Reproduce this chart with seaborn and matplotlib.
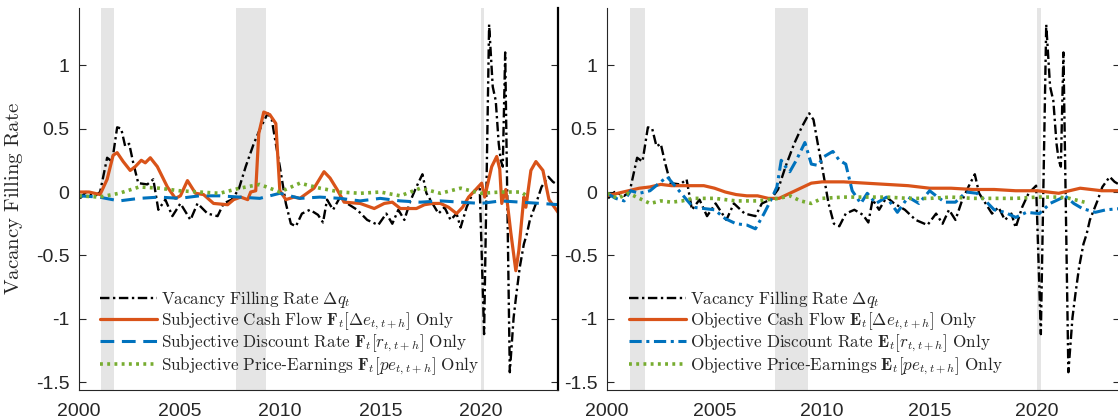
import numpy as np
import pandas as pd
import seaborn as sns
import matplotlib.pyplot as plt

# --- data ---
# vacancy filling rate (same series in both panels)
fill_years = [2000.05, 2000.35, 2000.8, 2001.05, 2001.4, 2001.65, 2001.9, 2002.1, 2002.3, 2002.5,
              2002.7, 2002.95, 2003.4, 2003.7, 2003.95, 2004.3, 2004.65, 2005.05, 2005.55, 2005.9,
              2006.4, 2006.9, 2007.2, 2007.6, 2007.95, 2008.3, 2008.7, 2009.05, 2009.4, 2009.6,
              2009.8, 2010.0, 2010.3, 2010.55, 2010.8, 2011.1, 2011.5, 2011.9, 2012.15, 2012.35,
              2012.65, 2013.0, 2013.35, 2013.85, 2014.35, 2014.9, 2015.3, 2015.6, 2015.9, 2016.2,
              2016.5, 2016.8, 2017.1, 2017.3, 2017.6, 2017.9, 2018.2, 2018.5, 2018.8, 2019.0,
              2019.3, 2019.6, 2019.95, 2020.17, 2020.42, 2020.6, 2020.75, 2020.9, 2021.0, 2021.1,
              2021.22, 2021.45, 2021.64, 2021.78, 2021.95, 2022.15, 2022.3, 2022.45, 2022.8, 2023.03,
              2023.37, 2023.6, 2023.9]
fill_rate = [-0.05, 0.0, -0.03, 0.0, 0.27, 0.24, 0.51, 0.5, 0.36, 0.38,
             0.23, 0.07, 0.06, 0.1, -0.14, -0.06, -0.19, -0.09, -0.22, -0.09,
             -0.17, -0.19, -0.09, -0.06, 0.02, 0.2, 0.38, 0.51, 0.62, 0.57,
             0.38, 0.2, -0.09, -0.25, -0.27, -0.17, -0.14, -0.18, -0.24, -0.06,
             -0.14, -0.04, -0.09, -0.14, -0.22, -0.26, -0.17, -0.25, -0.14, -0.22,
             -0.07, 0.04, 0.14, -0.01, -0.09, -0.17, -0.12, -0.22, -0.17, -0.28,
             -0.12, -0.01, 0.05, -1.12, 1.32, 0.83, 0.72, 0.38, 0.25, 0.2,
             1.1, -1.42, -0.99, -0.8, -0.59, -0.41, -0.33, -0.22, -0.07, 0.04,
             0.12, 0.08, 0.05]

# subjective (left panel)
subj_cf_years = [2000.0, 2000.5, 2001.05, 2001.4, 2001.7, 2001.9, 2002.2, 2002.55, 2002.8, 2003.1,
                 2003.3, 2003.55, 2003.9, 2004.4, 2004.8, 2005.05, 2005.4, 2005.8, 2006.2, 2006.7,
                 2007.4, 2007.7, 2008.05, 2008.4, 2008.55, 2008.8, 2008.95, 2009.2, 2009.5, 2009.8,
                 2010.0, 2010.3, 2010.7, 2011.0, 2011.7, 2012.2, 2012.5, 2012.85, 2013.2, 2014.0,
                 2014.7, 2015.2, 2015.6, 2016.0, 2016.4, 2016.8, 2017.2, 2017.6, 2018.0, 2018.4,
                 2018.8, 2019.1, 2019.4, 2019.7, 2020.05, 2020.2, 2020.55, 2020.8, 2020.95, 2021.05,
                 2021.25, 2021.5, 2021.75, 2021.9, 2022.15, 2022.25, 2022.5, 2022.75, 2023.1, 2023.4,
                 2023.9]
subj_cf = [0.0, 0.0, -0.02, 0.1, 0.29, 0.31, 0.24, 0.17, 0.2, 0.25,
           0.23, 0.27, 0.2, 0.04, -0.05, -0.03, 0.09, -0.01, -0.02, -0.09,
           -0.1, -0.06, -0.04, -0.06, 0.0, 0.01, 0.46, 0.63, 0.61, 0.54,
           0.01, -0.06, -0.04, -0.05, 0.03, 0.16, 0.11, 0.02, -0.08, -0.09,
           -0.13, -0.09, -0.08, -0.13, -0.13, -0.13, -0.1, -0.09, -0.09, -0.12,
           -0.17, -0.12, -0.04, 0.01, 0.07, -0.04, 0.2, 0.28, 0.18, -0.09,
           0.02, -0.32, -0.62, -0.46, -0.04, -0.12, 0.17, 0.24, 0.17, -0.06,
           -0.17]

subj_dr_years = [2000, 2001, 2002, 2003, 2004, 2005, 2006, 2007, 2008, 2009, 2010, 2011, 2012,
                 2013, 2014, 2015, 2016, 2017, 2018, 2019, 2020, 2021, 2022, 2023, 2023.9]
subj_dr = [-0.03, -0.04, -0.07, -0.05, -0.04, -0.05, -0.03, -0.03, -0.04, -0.05, -0.01, -0.05, -0.04,
           -0.05, -0.07, -0.05, -0.07, -0.08, -0.07, -0.08, -0.09, -0.07, -0.08, -0.09, -0.1]

subj_pe_years = [2000, 2001, 2002, 2003, 2004, 2005, 2006, 2007, 2008, 2009, 2010, 2011, 2012,
                 2013, 2014, 2015, 2016, 2017, 2018, 2019, 2020, 2021, 2022, 2022.3]
subj_pe = [-0.03, -0.04, -0.01, 0.04, 0.03, 0.01, 0.0, -0.01, 0.03, 0.06, 0.0, 0.07, 0.03,
           0.0, -0.01, 0.0, -0.03, 0.03, -0.01, 0.03, -0.01, 0.0, 0.0, -0.03]

# objective (right panel)
obj_cf_years = [2000, 2000.5, 2001, 2001.5, 2002, 2002.5, 2003, 2003.5, 2004, 2004.5, 2005, 2005.5,
                2006, 2006.5, 2007, 2007.5, 2008, 2008.5, 2009, 2009.5, 2010, 2011, 2012, 2013,
                2014, 2015, 2016, 2017, 2018, 2019, 2020, 2020.5, 2021, 2021.5, 2022, 2022.5,
                2023, 2023.9]
obj_cf = [-0.03, -0.01, 0.01, 0.03, 0.04, 0.06, 0.05, 0.05, 0.05, 0.05, 0.03, 0.0,
          -0.02, -0.03, -0.03, -0.05, -0.05, -0.01, 0.03, 0.07, 0.08, 0.08, 0.07, 0.06,
          0.05, 0.03, 0.03, 0.02, 0.02, 0.01, 0.01, 0.0, -0.01, 0.01, 0.03, 0.02,
          0.01, 0.01]

obj_dr_years = [2000, 2000.4, 2000.8, 2001.1, 2001.5, 2002, 2002.5, 2002.8, 2003.2, 2003.6, 2004,
                2004.5, 2005, 2005.5, 2006, 2006.5, 2006.9, 2007.3, 2007.6, 2007.9, 2008.1, 2008.3,
                2008.5, 2008.8, 2009.2, 2009.5, 2009.8, 2010.1, 2010.5, 2010.8, 2011.1, 2011.4,
                2011.8, 2012.1, 2012.5, 2013, 2013.5, 2014, 2014.5, 2015, 2015.3, 2015.7, 2016.2,
                2016.7, 2017.2, 2017.6, 2018, 2018.5, 2019, 2019.5, 2020.1, 2020.6, 2021.1,
                2021.3, 2021.7, 2022.1, 2022.7, 2023.2, 2023.9]
obj_dr = [-0.01, -0.05, -0.07, 0.01, -0.01, 0.01, 0.08, 0.12, 0.04, -0.04, -0.12,
          -0.13, -0.14, -0.21, -0.25, -0.26, -0.29, -0.17, -0.07, 0.04, 0.25, 0.2,
          0.16, 0.25, 0.39, 0.22, 0.21, 0.28, 0.32, 0.25, 0.22, 0.01,
          -0.09, -0.01, -0.09, -0.04, -0.16, -0.04, -0.09, 0.01, -0.03, -0.08, -0.08,
          0.0, -0.01, -0.07, -0.14, -0.16, -0.2, -0.16, -0.17, -0.09, -0.05,
          -0.03, -0.09, -0.13, -0.16, -0.14, -0.13]

obj_pe_years = [2000, 2000.5, 2001, 2001.5, 2002, 2002.5, 2003, 2003.5, 2004, 2005, 2006, 2007,
                2008, 2008.5, 2009, 2009.5, 2010, 2011, 2012, 2013, 2014, 2015, 2016, 2017,
                2018, 2019, 2020, 2021, 2021.5, 2022.2]
obj_pe = [-0.01, -0.05, -0.01, -0.05, -0.09, -0.07, -0.08, -0.07, -0.05, -0.05, -0.07, -0.07,
          -0.05, -0.03, -0.07, -0.09, -0.05, -0.04, -0.04, -0.04, -0.05, -0.05, -0.04, -0.05,
          -0.05, -0.05, -0.04, -0.04, -0.05, -0.08]

recessions = [(2001.08, 2001.75), (2007.83, 2009.33), (2020.0, 2020.17)]

subj_labels = [r'$\mathrm{Vacancy\ Filling\ Rate}\ \Delta q_t$',
               r'$\mathrm{Subjective\ Cash\ Flow}\ \mathbf{F}_t[\Delta e_{t,t+h}]\ \mathrm{Only}$',
               r'$\mathrm{Subjective\ Discount\ Rate}\ \mathbf{F}_t[r_{t,t+h}]\ \mathrm{Only}$',
               r'$\mathrm{Subjective\ Price}$-$\mathrm{Earnings}\ \mathbf{F}_t[pe_{t,t+h}]\ \mathrm{Only}$']
obj_labels = [r'$\mathrm{Vacancy\ Filling\ Rate}\ \Delta q_t$',
              r'$\mathrm{Objective\ Cash\ Flow}\ \mathbf{E}_t[\Delta e_{t,t+h}]\ \mathrm{Only}$',
              r'$\mathrm{Objective\ Discount\ Rate}\ \mathbf{E}_t[r_{t,t+h}]\ \mathrm{Only}$',
              r'$\mathrm{Objective\ Price}$-$\mathrm{Earnings}\ \mathbf{E}_t[pe_{t,t+h}]\ \mathrm{Only}$']

BLACK, ORANGE, BLUE, GREEN = '#000000', '#D95319', '#0072BD', '#77AC30'

sns.set_style('white')
plt.rcParams['font.family'] = ['Liberation Sans', 'DejaVu Sans']
plt.rcParams['mathtext.fontset'] = 'cm'

fig = plt.figure(figsize=(11.18, 4.2), dpi=100)
ax1 = fig.add_axes([79 / 1118, 30 / 420, 479 / 1118, 382 / 420])
ax2 = fig.add_axes([607 / 1118, 30 / 420, 513 / 1118, 382 / 420])


def draw_panel(ax, cf, dr, pe, labels, dr_style):
    for a, b in recessions:
        ax.axvspan(a, b, color='#E5E5E5', lw=0, zorder=0)
    sns.lineplot(x=fill_years, y=fill_rate, ax=ax, color=BLACK, lw=1.7,
                 linestyle=(0, (4, 1.5, 1, 1.5)), label=labels[0])
    sns.lineplot(x=cf[0], y=cf[1], ax=ax, color=ORANGE, lw=2.3, label=labels[1])
    sns.lineplot(x=dr[0], y=dr[1], ax=ax, color=BLUE, lw=2.2, linestyle=dr_style, label=labels[2])
    sns.lineplot(x=pe[0], y=pe[1], ax=ax, color=GREEN, lw=2.6,
                 linestyle=(0, (0.8, 1.2)), label=labels[3])

    ax.set_xlim(2000, 2023.85)
    ax.set_ylim(-1.56, 1.45)
    ax.set_xticks([2000, 2005, 2010, 2015, 2020])
    ax.set_xticklabels(['2000', '2005', '2010', '2015', '2020'])
    ax.set_yticks([-1.5, -1, -0.5, 0, 0.5, 1])
    ax.set_yticklabels(['-1.5', '-1', '-0.5', '0', '0.5', '1'])
    ax.tick_params(axis='y', direction='in', length=5, width=0.8, left=True, right=True,
                   labelsize=14, colors='#262626', pad=7)
    ax.tick_params(axis='x', length=0, labelsize=14, colors='#262626', pad=9)
    ax.spines['top'].set_visible(False)
    for s in ['left', 'bottom']:
        ax.spines[s].set_color('#262626')
        ax.spines[s].set_linewidth(0.8)
    ax.spines['right'].set_color('black')
    ax.spines['right'].set_linewidth(1.6)
    ax.set_xlabel('')
    ax.legend(loc='lower left', bbox_to_anchor=(0.03, 0.017), frameon=False,
              fontsize=12.3, handlelength=3.3, handletextpad=0.25, labelspacing=0.05,
              borderaxespad=0)


draw_panel(ax1, (subj_cf_years, subj_cf), (subj_dr_years, subj_dr), (subj_pe_years, subj_pe),
           subj_labels, (0, (4.5, 2.5)))
draw_panel(ax2, (obj_cf_years, obj_cf), (obj_dr_years, obj_dr), (obj_pe_years, obj_pe),
           obj_labels, (0, (4, 1.5, 1, 1.5)))

ax1.set_ylabel(r'$\mathrm{Vacancy\ Filling\ Rate}$', fontsize=15)
ax1.yaxis.set_label_coords(-0.113, 0.5)

fig.savefig('out.png', dpi=100)
